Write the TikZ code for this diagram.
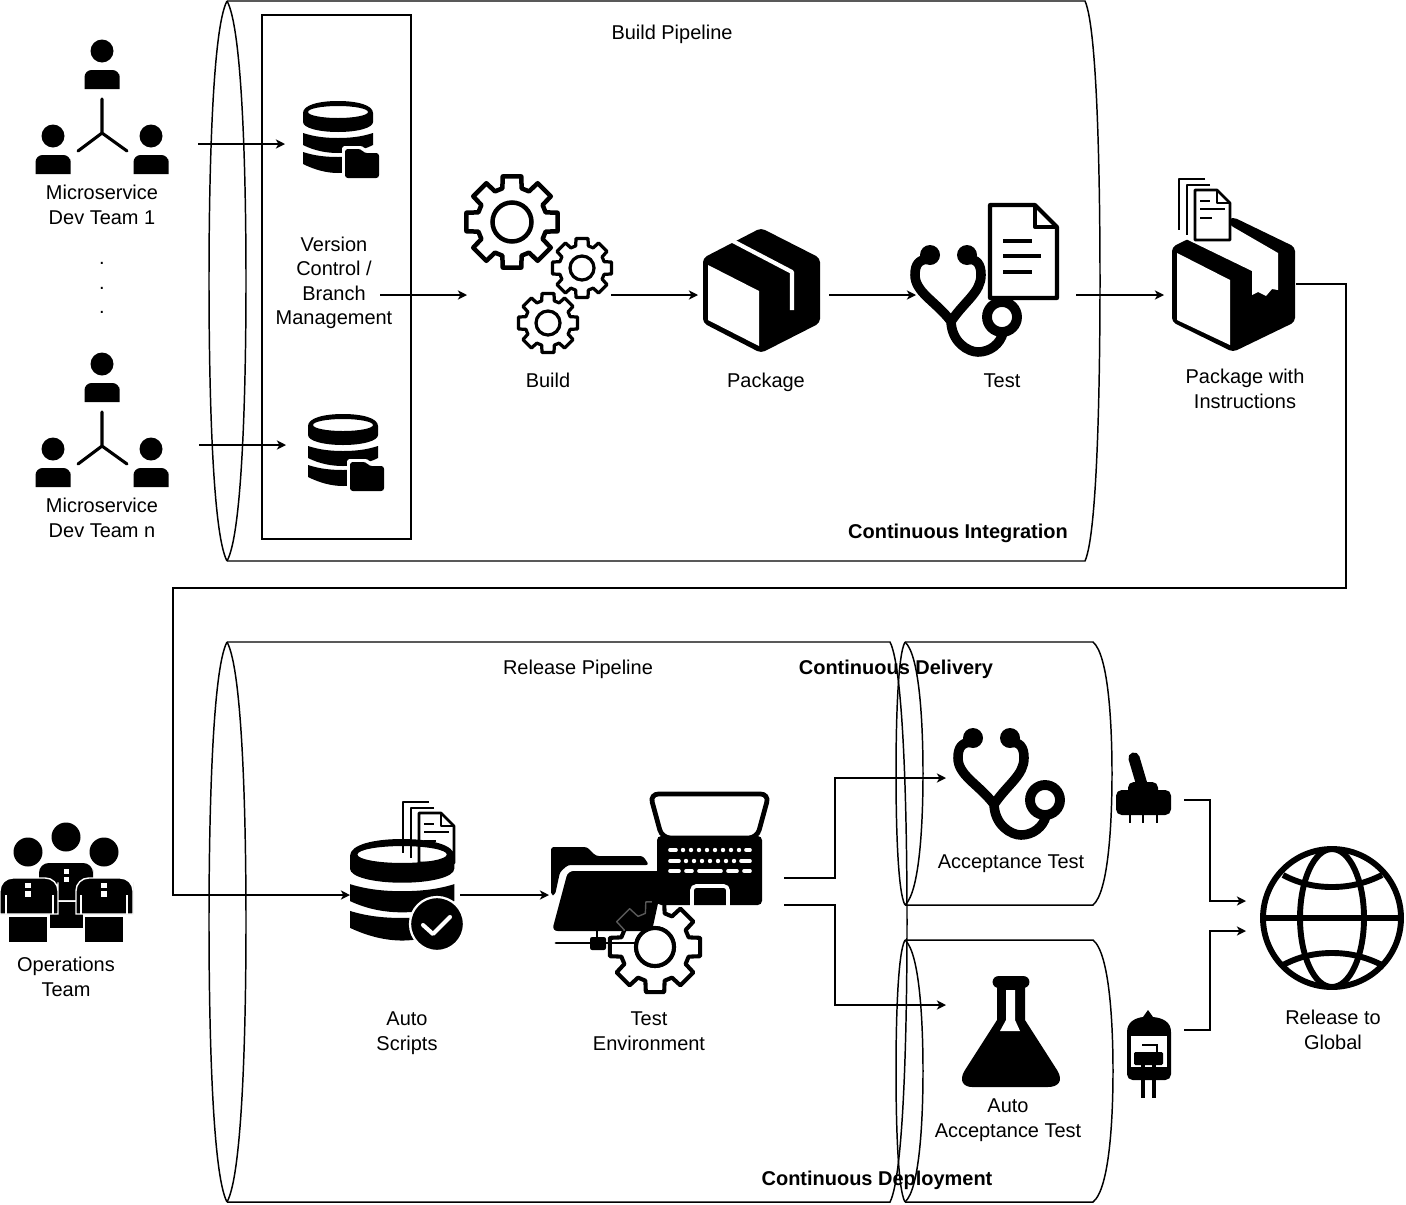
\documentclass[tikz,border=0pt]{standalone}
\usepackage{fontspec}
\setmainfont{Liberation Sans}
\usetikzlibrary{arrows.meta}

\tikzset{
    lbl/.style={font=\fontsize{14.2}{17.4}\selectfont,align=center},
    boldlbl/.style={font=\fontsize{14.2}{17.4}\selectfont\bfseries,align=center},
    outline/.style={line width=1.05pt},
    link/.style={line width=1.05pt,-{Stealth[length=6.5pt,width=6.5pt,inset=1.8pt]}},
    tube/.style={line width=6.8pt,line cap=round,line join=round},
    paper/.style={line width=1.9pt,line join=round}
}

% x, top, bottom, left half, right half, end x, bulge
\newcommand{\barrel}[7]{
    \pgfmathsetmacro{\barrelh}{#3-#2}
    \pgfmathsetmacro{\barrelm}{(#3+#2)/2}
    \draw[outline] (#1,#2)
        .. controls ({#1-0.83*#4},{#2+0.05*\barrelh}) and ({#1-#4},{#2+0.32*\barrelh}) .. ({#1-#4},\barrelm)
        .. controls ({#1-#4},{#3-0.32*\barrelh}) and ({#1-0.83*#4},{#3-0.05*\barrelh}) .. (#1,#3);
    \draw[outline] (#1,#2)
        .. controls ({#1+0.83*#5},{#2+0.05*\barrelh}) and ({#1+#5},{#2+0.32*\barrelh}) .. ({#1+#5},\barrelm)
        .. controls ({#1+#5},{#3-0.32*\barrelh}) and ({#1+0.83*#5},{#3-0.05*\barrelh}) .. (#1,#3);
    \draw[outline] (#1,#2) -- (#6,#2)
        .. controls ({#6+0.83*#7},{#2+0.05*\barrelh}) and ({#6+#7},{#2+0.32*\barrelh}) .. ({#6+#7},\barrelm)
        .. controls ({#6+#7},{#3-0.32*\barrelh}) and ({#6+0.83*#7},{#3-0.05*\barrelh}) .. (#6,#3) -- (#1,#3);
}

% one person of a team: head centre
\newcommand{\onedev}[2]{
    \fill (#1,#2) circle (11.5);
    \fill (#1-17.5,#2+38) -- (#1-17.5,#2+30) [rounded corners=5pt] -- (#1-17.5,#2+19) -- (#1+17.5,#2+19)
        -- (#1+17.5,#2+30) [sharp corners] -- (#1+17.5,#2+38) -- cycle;
}
\newcommand{\devteam}[1]{
\begin{scope}[shift={#1}]
    \onedev{102}{51}
    \onedev{53}{136}
    \onedev{151}{136}
    \draw[line width=2.2pt,line cap=round,line join=round] (102,99)--(102,133) (78,151)--(102,133)--(127,151);
\end{scope}
}

% database: 70 wide, 72 high
\newcommand{\dbstack}[4]{
\begin{scope}[shift={(#1,#2)},xscale=#3,yscale=#4]
    \fill[even odd rule] (0,12) .. controls (0,4) and (16,0) .. (35,0) .. controls (54,0) and (70,4) .. (70,12)
        -- (70,21) .. controls (70,27) and (54,31) .. (35,31) .. controls (16,31) and (0,27) .. (0,21) -- cycle
        (35,11) ellipse (30 and 6);
    \fill (0,32) .. controls (12,36) and (24,37) .. (35,37) .. controls (46,37) and (58,36) .. (70,32)
        -- (70,44) .. controls (58,50) and (46,52) .. (35,52) .. controls (24,52) and (12,50) .. (0,44) -- cycle;
    \fill (0,51) .. controls (12,55) and (24,56) .. (35,56) .. controls (46,56) and (58,55) .. (70,51)
        -- (70,63) .. controls (58,69) and (46,72) .. (35,72) .. controls (24,72) and (12,69) .. (0,63) -- cycle;
\end{scope}
}
\newcommand{\repoicon}[1]{
\begin{scope}[shift={#1}]
    \dbstack{303}{101}{1}{1}
    \fill[white,rounded corners=2pt] (342,181) -- (342,146) -- (363,146) -- (366,150) -- (382,150) -- (382,181) -- cycle;
    \fill[rounded corners=2pt] (345,178) -- (345,149) -- (361,149) -- (364,153) -- (379,153) -- (379,178) -- cycle;
\end{scope}
}

\newcommand{\gearicon}[6]{
\begin{scope}[shift={(#1,#2)}]
    \draw[line width=#6,line join=round] (-16:#4) \foreach \a in {0,45,...,315} {
        -- (\a-16:#4) -- (\a-11.5:#3) -- (\a+11.5:#3) -- (\a+16:#4)} -- cycle;
    \draw[line width=#6] (0,0) circle (#5);
\end{scope}
}

\newcommand{\stetho}[1]{
\begin{scope}[shift={#1}]
    \fill (930,255) circle (10);
    \fill (967,255) circle (10);
    \draw[tube] (930,259) .. controls (919,259) and (915,264) .. (915,275)
        .. controls (915,292) and (935,301) .. (950,320);
    \draw[tube] (967,259) .. controls (977,259) and (981,264) .. (981,275)
        .. controls (981,292) and (965,301) .. (952,320);
    \draw[tube] (951,320) .. controls (951,342) and (968,352) .. (978,352)
        .. controls (990,352) and (1000,344) .. (1003,333);
    \draw[line width=7pt] (1002,317) circle (15);
\end{scope}
}

\newcommand{\docstack}[1]{
\begin{scope}[shift={#1}]
    \draw[paper] (1205,179) -- (1179,179) -- (1179,230);
    \draw[paper] (1210,185) -- (1187,185) -- (1187,235);
    \filldraw[paper,fill=white] (1195,190) -- (1217,190) -- (1230,203) -- (1230,240) -- (1195,240) -- cycle;
    \draw[paper] (1217,190) -- (1217,203) -- (1230,203);
    \draw[paper] (1200,201) -- (1210,201);
    \draw[paper] (1200,209) -- (1225,209);
    \draw[paper] (1200,218) -- (1212,218);
\end{scope}
}

\begin{document}
\begin{tikzpicture}[x=0.025cm,y=-0.025cm]
\useasboundingbox (0,0) rectangle (1406,1204);

% pipelines
\barrel{227}{1}{561}{18}{19}{1085}{15}
\barrel{227}{642}{1202}{18}{19}{890}{17}
\barrel{905}{642}{905}{9}{18}{1093}{19}
\barrel{905}{940}{1202}{9}{18}{1093}{20}
\draw[outline] (262,15) rectangle (411,539);

% teams
\devteam{(0,0)}
\devteam{(0,313)}
\repoicon{(0,0)}
\repoicon{(5,313)}

% build
\gearicon{512}{222}{46.5}{35}{19.5}{3.2pt}
\gearicon{582}{268}{30}{23}{12}{2.3pt}
\gearicon{548}{323}{30}{23}{12}{2.3pt}

% package
\fill[rounded corners=3pt] (703,258) -- (761,228) -- (820,258) -- (820,323) -- (761,353) -- (703,323) -- cycle;
\fill[white] (708,265) -- (759,291) -- (759,346) -- (708,320) -- cycle;
\draw[white,line width=2.9pt,line join=round] (727,238) -- (792,272) -- (792,310);

% test
\filldraw[line width=2.9pt,line join=round,fill=white] (990,205) -- (1035,205) -- (1057,227) -- (1057,298) -- (990,298) -- cycle;
\draw[line width=2.9pt,line join=round] (1035,205) -- (1035,227) -- (1057,227);
\draw[line width=2.6pt] (1003,241) -- (1032,241);
\draw[line width=2.6pt] (1003,256) -- (1041,256);
\draw[line width=2.6pt] (1003,272) -- (1032,272);
\stetho{(0,0)}

% package with instructions
\fill[rounded corners=3pt] (1172,247) -- (1233,217) -- (1295,247) -- (1295,322) -- (1233,352) -- (1172,322) -- cycle;
\fill[white] (1186,239) -- (1222,218) -- (1233,227) -- (1278,253) -- (1278,290) -- (1272,289) -- (1266,296)
    -- (1258,292) -- (1252,295) -- (1252,271) -- cycle;
\fill[white] (1177,253) -- (1230,280) -- (1230,345) -- (1177,320) -- cycle;
\docstack{(0,0)}

% operations team
\fill (66,837) circle (14.5);
\fill (28,852) circle (14.5);
\fill (104,852) circle (14.5);
\fill (39,900) -- (39,880) [rounded corners=7pt] -- (39,863) -- (93,863) -- (93,880) [sharp corners] -- (93,900) -- cycle;
\fill (50,902) rectangle (83,928);
\fill[white] (64,869) rectangle (69,874);
\fill[white] (64,877) rectangle (69,882);
\filldraw[draw=white,line width=1pt] (0,914) -- (0,895) [rounded corners=9pt] -- (0,878) -- (58,878) -- (58,895) [sharp corners] -- (58,914) -- cycle;
\filldraw[draw=white,line width=1pt] (76,914) -- (76,895) [rounded corners=9pt] -- (76,878) -- (133,878) -- (133,895) [sharp corners] -- (133,914) -- cycle;
\fill (9,917) rectangle (47,942);
\fill (85,917) rectangle (123,942);
\draw[white,line width=1pt] (6,895) -- (6,914);
\draw[white,line width=1pt] (53,895) -- (53,914);
\draw[white,line width=1pt] (81,895) -- (81,914);
\draw[white,line width=1pt] (127,895) -- (127,914);
\fill[white] (25,883) rectangle (31,888);
\fill[white] (25,891) rectangle (31,897);
\fill[white] (101,883) rectangle (107,888);
\fill[white] (101,891) rectangle (107,897);

% auto scripts
\docstack{(-776,623)}
\dbstack{350}{839}{1.49}{1.41}
\filldraw[draw=white,line width=1.6pt] (437,924) circle (27);
\draw[white,line width=2.9pt,line join=round,line cap=round] (423,925) -- (433,934) -- (450,917);

% test environment
\fill[rounded corners=2pt] (551,895) -- (551,847) -- (587,847) -- (596,856) -- (643,856) -- (649,865) -- (568,865)
    -- (560,872) -- (555,895) -- cycle;
\fill[rounded corners=4pt] (568,871) -- (665,871) -- (652,931) -- (552,931) -- cycle;
\filldraw[line width=3.4pt,rounded corners=6pt,fill=white] (650,794) -- (769,794) -- (757,838) -- (662,838) -- cycle;
\fill[rounded corners=3pt] (657,836) -- (762,836) -- (762,905) -- (657,905) -- cycle;
\draw[white,line width=2.6pt,line cap=round] (670,850) -- (676,850) (746,850) -- (750,850);
\foreach \x in {683,691,...,739} {
    \fill[white] (\x,850) circle (2.2);
}
\draw[white,line width=2.6pt,line cap=round] (670,861) -- (679,861) (741,861) -- (750,861);
\foreach \x in {686,694,...,734} {
    \fill[white] (\x,861) circle (2.2);
}
\draw[white,line width=2.6pt,line cap=round] (670,871) -- (679,871) (686,871) -- (692,871) (699,871) -- (721,871)
    (728,871) -- (737,871) (744,871) -- (750,871);
\draw[white,line width=2.6pt,rounded corners=3pt] (692,906) -- (692,886) -- (728,886) -- (728,906);
\begin{scope}[color=black!65]
    \clip (568,871) -- (665,871) -- (652,931) -- (552,931) -- cycle;
    \gearicon{655}{947}{46}{35}{19}{1pt}
\end{scope}
\begin{scope}
    \clip (652,890) -- (720,890) -- (720,1010) -- (560,1010) -- (560,931) -- (652,931) -- cycle;
    \gearicon{655}{947}{46}{35}{19}{2.9pt}
\end{scope}
\filldraw[line width=2.9pt,fill=white] (655,947) circle (19);
\draw[line width=2.1pt,line cap=round] (556,943) -- (636,943);
\draw[line width=2.1pt] (597,931) -- (597,940);
\fill[rounded corners=1.5pt] (590,937) rectangle (606,950);

% acceptance test
\stetho{(43,483)}
\fill[rounded corners=4pt] (1116,790) rectangle (1171,815);
\fill[rounded corners=4pt] (1128,782) rectangle (1158,797);
\draw[line width=8pt,line cap=round] (1134,758) -- (1142,785);
\draw[line width=2pt] (1130,815) -- (1130,823);
\draw[line width=2pt] (1143,815) -- (1143,823);
\draw[line width=2pt] (1157,815) -- (1157,823);

% auto acceptance test
\fill (997,985) -- (997,1020) -- (965,1070) .. controls (958,1081) and (964,1087) .. (972,1087) -- (1048,1087)
    .. controls (1058,1087) and (1064,1081) .. (1057,1070) -- (1025,1020) -- (1025,985) -- cycle;
\draw[line width=9.2pt,line cap=round] (999,982) -- (1023,982);
\fill[white] (1006,990) -- (1015,990) -- (1015,1020) -- (1020,1031) -- (1000,1031) -- (1006,1020) -- cycle;

% tube
\fill (1127,1060) -- (1127,1032) .. controls (1127,1022) and (1135,1018) .. (1143,1017) -- (1148,1010) -- (1153,1017)
    .. controls (1163,1018) and (1171,1022) .. (1171,1032) -- (1171,1060) [rounded corners=4pt] -- (1171,1080) -- (1127,1080) [sharp corners] -- cycle;
\fill[white] (1131,1036) rectangle (1167,1067);
\fill[rounded corners=1pt] (1134,1052) rectangle (1163,1065);
\draw[line width=2pt] (1142,1045) -- (1157,1045) -- (1157,1052);
\draw[line width=2.8pt] (1143,1065) -- (1143,1098);
\draw[line width=2.8pt] (1154,1065) -- (1154,1098);

% globe
\draw[line width=4.2pt] (1332,918) circle (69);
\draw[line width=4.2pt] (1332,918) ellipse (32 and 69);
\draw[line width=4.2pt] (1263,918) -- (1401,918);
\draw[line width=4.2pt] (1283,875) .. controls (1300,884) and (1316,887) .. (1332,887) .. controls (1348,887) and (1364,884) .. (1382,875);
\draw[line width=4.2pt] (1283,965) .. controls (1300,956) and (1316,953) .. (1332,953) .. controls (1348,953) and (1364,956) .. (1382,965);

% labels
\node[lbl] (buildpipe) at (672,34) {Build Pipeline};
\node[boldlbl] (ci) at (958,533) {Continuous Integration};
\node[lbl] (releasepipe) at (578,669) {Release Pipeline};
\node[boldlbl] (cdelivery) at (896,669) {Continuous Delivery};
\node[boldlbl] (cdeploy) at (877,1180) {Continuous Deployment};
\node[lbl] (teamone) at (102,205) {Microservice\\Dev Team 1};
\node[lbl] (teamdots) at (102,288) {.\\.\\.};
\node[lbl] (teamn) at (102,518) {Microservice\\Dev Team n};
\node[lbl] (vcs) at (334,283) {Version\\Control /\\Branch\\Management};
\node[lbl] (build) at (548,380) {Build};
\node[lbl] (package) at (766,382) {Package};
\node[lbl] (test) at (1002,381) {Test};
\node[lbl] (boxed) at (1245,389) {Package with\\Instructions};
\node[lbl] (ops) at (66,977) {Operations\\Team};
\node[lbl] (scripts) at (407,1033) {Auto\\Scripts};
\node[lbl] (testenv) at (649,1031) {Test\\Environment};
\node[lbl] (acc) at (1011,864) {Acceptance Test};
\node[lbl] (autoacc) at (1008,1120) {Auto\\Acceptance Test};
\node[lbl] (release) at (1333,1030) {Release to\\Global};

% connector ends
\coordinate (teamoneout) at (198,144);
\coordinate (repoonein) at (285,144);
\coordinate (teamnout) at (199,445);
\coordinate (reponin) at (286,445);
\coordinate (vcsout) at (380,295);
\coordinate (buildin) at (467,295);
\coordinate (buildout) at (611,295);
\coordinate (packagein) at (698,295);
\coordinate (packageout) at (829,295);
\coordinate (testin) at (916,295);
\coordinate (testout) at (1076,295);
\coordinate (boxedin) at (1164,295);
\coordinate (boxedout) at (1296,284);
\coordinate (busright) at (1346,588);
\coordinate (busleft) at (173,588);
\coordinate (scriptsin) at (350,895);
\coordinate (scriptsout) at (460,895);
\coordinate (envin) at (549,895);
\coordinate (envouta) at (784,878);
\coordinate (envoutb) at (784,905);
\coordinate (splitx) at (835,0);
\coordinate (accin) at (946,778);
\coordinate (autoaccin) at (946,1005);
\coordinate (switchout) at (1184,800);
\coordinate (tubeout) at (1184,1030);
\coordinate (mergex) at (1210,0);
\coordinate (globeina) at (1246,901);
\coordinate (globeinb) at (1246,931);

% connectors
\draw[link] (teamoneout) -- (repoonein);
\draw[link] (teamnout) -- (reponin);
\draw[link] (vcsout) -- (buildin);
\draw[link] (buildout) -- (packagein);
\draw[link] (packageout) -- (testin);
\draw[link] (testout) -- (boxedin);
\draw[link] (boxedout) -| (busright) -- (busleft) |- (scriptsin);
\draw[link] (scriptsout) -- (envin);
\draw[link] (envouta) -- (envouta -| splitx) |- (accin);
\draw[link] (envoutb) -- (envoutb -| splitx) |- (autoaccin);
\draw[link] (switchout) -- (switchout -| mergex) |- (globeina);
\draw[link] (tubeout) -- (tubeout -| mergex) |- (globeinb);
\end{tikzpicture}
\end{document}
